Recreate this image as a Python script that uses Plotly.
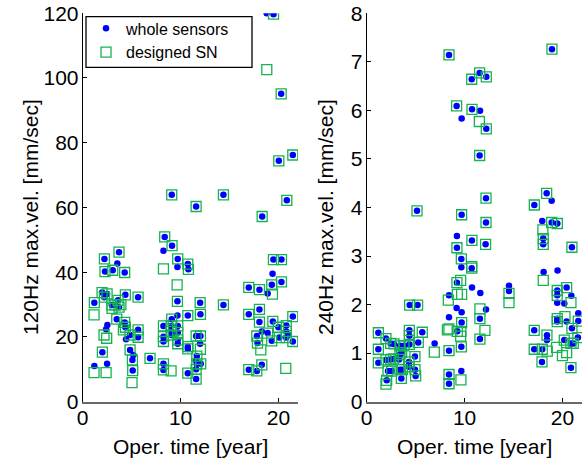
import plotly.graph_objects as go

# ---------------- 120 Hz panel data ----------------
# points marked by both series (sensor is also a designed SN)
both120_x = [1.19, 2.22, 2.28, 3.07, 3.71, 4.29, 1.98, 2.49, 2.22, 2.97, 3.3, 3.61, 3.71, 4.36, 5.66,
             3.48, 4.29, 4.36, 4.84, 5.66, 5.66, 4.84, 5.08, 5.11, 2.01, 6.88,
             8.38, 9.13, 9.71, 10.74, 10.8, 9.68, 10.74, 8.25, 8.25, 8.25, 9.1, 9.03, 9.03, 9.1,
             9.71, 9.71, 9.71, 9.71, 10.74, 10.74, 8.25, 8.25, 10.74, 12.0, 12.03, 11.59, 12.03,
             11.66, 11.66, 12.06, 11.59, 11.59, 14.38,
             9.1, 11.59, 14.38, 18.34, 19.5, 20.28, 20.04, 21.47, 20.86,
             19.49, 20.31, 16.97, 18.06, 19.32, 20.31, 16.97, 18.06, 18.06, 21.47, 19.43, 20.0,
             20.8, 20.8, 20.1, 20.8, 19.32, 18.9, 17.79, 17.86, 21.47, 16.97, 17.79, 18.3]
both120_y = [30.6, 44.1, 40.2, 40.6, 46.2, 39.9, 33.7, 33.3, 32.3, 29.9, 29.9, 31.3, 29.2, 33.0, 32.3,
             25.5, 24.5, 23.0, 20.6, 22.2, 19.9, 16.0, 12.9, 9.6, 15.3, 13.4,
             50.9, 48.2, 44.1, 42.5, 40.9, 31.0, 26.6, 23.4, 20.1, 18.6, 25.5, 23.4, 21.7, 20.6,
             23.4, 21.4, 19.1, 17.9, 17.0, 16.3, 11.7, 9.8, 8.8, 30.6, 27.0, 20.3, 20.3,
             14.1, 11.7, 11.7, 10.0, 7.0, 29.9,
             63.9, 60.3, 63.9, 57.2, 119.7, 95.1, 74.4, 76.2, 62.2,
             43.9, 43.9, 35.3, 34.6, 36.1, 37.0, 27.0, 28.5, 24.6, 26.3, 24.8, 23.0,
             23.5, 21.7, 19.8, 19.8, 18.8, 21.2, 20.3, 18.1, 18.6, 9.9, 9.5, 11.4]
# whole sensors only (dot without square)
dot120_x = [1.19, 3.54, 2.52, 2.39, 4.43, 5.18, 2.49, 8.25, 9.68, 9.68, 12.0, 11.59, 18.8, 19.4,
            18.9, 18.3, 20.99]
dot120_y = [11.0, 42.7, 23.7, 22.4, 19.3, 14.4, 11.7, 46.6, 41.6, 26.6, 17.9, 12.7, 120.0, 39.5,
            33.4, 21.7, 20.6]
# designed SN only (square without dot)
sq120_x = [1.16, 1.16, 2.18, 2.45, 5.04, 2.39, 8.25, 9.65, 9.03, 12.03, 18.81, 19.39, 18.2, 20.75,
           3.0, 3.9, 4.16]
sq120_y = [26.8, 9.0, 20.6, 19.6, 5.9, 9.0, 41.0, 36.1, 9.5, 16.2, 102.6, 33.2, 16.0, 10.3,
           28.8, 30.0, 22.2]

# ---------------- 240 Hz panel data ----------------
both240_x = [8.41, 18.93, 10.73, 11.54, 12.22, 9.19, 10.76, 12.22, 11.54, 12.19, 5.14, 9.7, 12.19,
             17.13, 18.39, 18.9, 19.48,
             10.75, 9.22, 9.67, 10.73, 9.22, 9.26, 9.67, 8.41, 8.41, 8.41, 9.7, 4.39, 5.2,
             1.19, 1.19, 1.19, 1.97, 2.45, 2.79, 3.4, 3.81, 4.36, 4.36, 4.36, 5.68, 5.27, 1.97,
             2.45, 2.72, 3.4, 3.57, 3.3, 4.32, 4.93, 4.32, 2.18, 2.55, 3.4, 3.64, 4.93, 5.0, 2.04, 3.54,
             18.04, 18.04, 12.15, 20.97, 20.43, 19.47, 19.47, 11.57, 11.57, 21.62, 19.47, 19.47,
             20.97, 17.12, 18.42, 17.12, 17.94, 20.19, 20.87, 21.11, 21.58, 17.91, 20.87]
both240_y = [7.14, 7.26, 6.64, 6.77, 6.69, 6.09, 6.02, 5.62, 5.07, 4.19, 3.93, 3.85, 3.69,
             4.05, 4.29, 3.69, 3.67,
             3.32, 3.17, 2.94, 2.75, 2.45, 1.45, 1.13, 1.05, 0.56, 0.37, 1.63, 1.99, 1.99,
             1.42, 1.08, 0.80, 1.30, 1.20, 1.19, 1.15, 1.15, 1.47, 1.36, 1.18, 1.43, 1.22, 0.86,
             0.87, 0.88, 0.97, 1.01, 0.87, 0.82, 0.93, 0.72, 0.63, 0.63, 0.66, 0.66, 0.66, 0.53, 0.44, 0.48,
             3.36, 3.24, 3.24, 3.18, 2.35, 2.29, 2.19, 1.71, 1.29, 1.66, 1.71, 1.65,
             1.51, 1.47, 1.37, 1.08, 1.08, 1.27, 1.20, 1.20, 1.32, 0.82, 0.70]
dot240_x = [11.58, 9.7, 18.9, 17.94, 9.22, 9.67, 10.76, 8.41, 9.19, 9.7, 8.41, 9.67, 6.94, 18.08,
            19.5, 11.61, 14.54, 14.54, 20.91, 19.47, 20.19, 12.19, 21.62, 20.43, 18.42]
dot240_y = [5.99, 5.83, 4.14, 3.72, 3.41, 2.77, 2.35, 2.19, 1.93, 1.84, 1.74, 0.63, 1.20, 2.67,
            2.70, 2.24, 2.39, 2.28, 2.18, 2.04, 2.02, 1.90, 1.82, 1.65, 1.27]
sq240_x = [11.51, 9.6, 8.34, 9.26, 9.7, 8.4, 8.25, 9.63, 9.63, 6.91, 1.97, 18.04, 18.0, 14.54,
           14.54, 20.87, 11.57, 12.08, 20.26, 18.45, 19.4, 20.43, 10.73, 9.6, 20.0]
sq240_y = [5.77, 2.50, 2.09, 2.21, 2.21, 1.50, 1.48, 1.45, 0.45, 1.02, 0.36, 2.50, 3.54, 2.23,
           2.04, 2.04, 1.91, 1.47, 1.75, 1.04, 1.12, 1.01, 2.78, 1.35, 0.95]

x_ticks = [0, 10, 20]
y120_ticks = [0, 20, 40, 60, 80, 100, 120]
y240_ticks = [0, 1, 2, 3, 4, 5, 6, 7, 8]

whole120_x = both120_x + dot120_x
whole120_y = both120_y + dot120_y
des120_x = both120_x + sq120_x
des120_y = both120_y + sq120_y
whole240_x = both240_x + dot240_x
whole240_y = both240_y + dot240_y
des240_x = both240_x + sq240_x
des240_y = both240_y + sq240_y

BLUE = "#0000FF"
GREEN = "rgb(20,180,80)"
FONT = "Liberation Sans, Arial, sans-serif"

fig = go.Figure()
dot_marker = dict(symbol="circle", size=6.5, color=BLUE, line=dict(width=0))
sq_marker = dict(symbol="square-open", size=10, color=GREEN, line=dict(width=1.3, color=GREEN))

fig.add_trace(go.Scatter(x=whole120_x, y=whole120_y, mode="markers", name="whole sensors",
                         marker=dot_marker, xaxis="x", yaxis="y"))
fig.add_trace(go.Scatter(x=des120_x, y=des120_y, mode="markers", name="designed SN",
                         marker=sq_marker, xaxis="x", yaxis="y"))
fig.add_trace(go.Scatter(x=whole240_x, y=whole240_y, mode="markers", name="whole sensors",
                         marker=dot_marker, xaxis="x2", yaxis="y2", showlegend=False))
fig.add_trace(go.Scatter(x=des240_x, y=des240_y, mode="markers", name="designed SN",
                         marker=sq_marker, xaxis="x2", yaxis="y2", showlegend=False))

W, H = 583, 463
ydom = [1 - 401.7 / H, 1 - 13.2 / H]
tickfont = dict(family=FONT, size=21, color="black")
xaxis_common = dict(showline=True, linecolor="rgb(105,105,105)", linewidth=1.5, ticks="inside",
                    ticklen=4, tickcolor="black", showgrid=False, zeroline=False,
                    tickfont=tickfont, automargin=False, ticklabelstandoff=-4)
yaxis_common = dict(showline=True, linecolor="black", linewidth=1, ticks="inside", ticklen=4,
                    tickcolor="black", showgrid=False, zeroline=False, tickfont=tickfont,
                    automargin=False, ticklabelstandoff=-1)

fig.update_layout(
    width=W, height=H,
    margin=dict(l=0, r=0, t=0, b=0, pad=0, autoexpand=False),
    paper_bgcolor="white", plot_bgcolor="white",
    font=dict(family=FONT, color="black"),
    xaxis=dict(domain=[82.7 / W, 298.0 / W], range=[0, 22], tickvals=x_ticks, anchor="y",
               **xaxis_common),
    yaxis=dict(domain=ydom, range=[0, 120], tickvals=y120_ticks, anchor="x", **yaxis_common),
    xaxis2=dict(domain=[366.7 / W, 582.0 / W], range=[0, 22], tickvals=x_ticks, anchor="y2",
                **xaxis_common),
    yaxis2=dict(domain=ydom, range=[0, 8], tickvals=y240_ticks, anchor="x2", **yaxis_common),
    showlegend=True,
    legend=dict(x=86 / W, y=1 - 11.4 / H, xanchor="left", yanchor="top",
                borderwidth=0, bgcolor="rgba(0,0,0,0)",
                font=dict(family=FONT, size=16, color="black"), tracegroupgap=0,
                itemwidth=30),
)

# legend frame
fig.add_shape(type="rect", xref="paper", yref="paper",
              x0=86 / W, x1=252 / W, y0=1 - 67.3 / H, y1=1 - 16.7 / H,
              line=dict(color="black", width=1.3), fillcolor="white", layer="above")

ann = [
    dict(text="Oper. time [year]", x=(82.7 + 298) / 2 / W, y=1 - 446 / H),
    dict(text="Oper. time [year]", x=(366.7 + 582) / 2 / W, y=1 - 446 / H),
    dict(text="120Hz max.vel. [mm/sec]", x=30 / W, y=1 - 217 / H, textangle=-90),
    dict(text="240Hz max.vel. [mm/sec]", x=325 / W, y=1 - 217 / H, textangle=-90),
]
for a in ann:
    fig.add_annotation(xref="paper", yref="paper", showarrow=False, xanchor="center",
                       yanchor="middle", font=dict(family=FONT, size=21, color="black"), **a)

fig.write_html("out.html")
